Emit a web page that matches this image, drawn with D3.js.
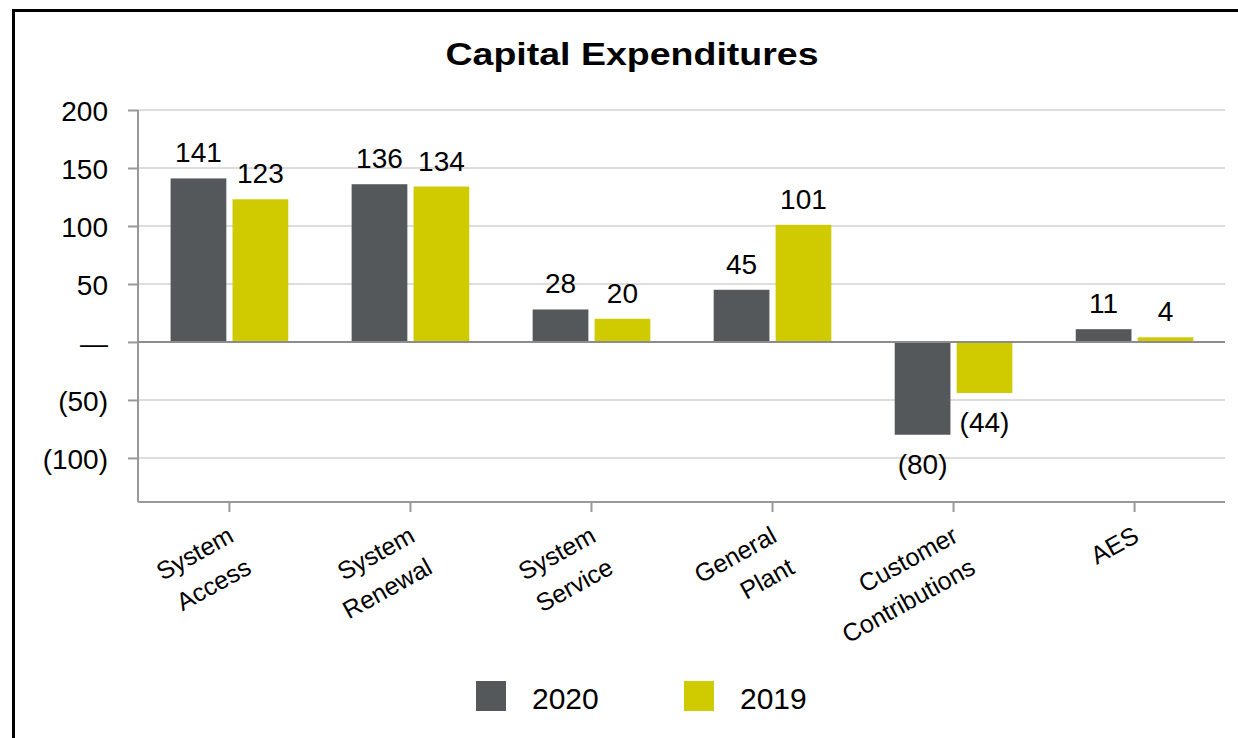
<!DOCTYPE html>
<html>
<head>
<meta charset="utf-8">
<script src="https://cdn.jsdelivr.net/npm/d3@7"></script>
<style>
  body { margin: 0; background: #fff; }
  text { font-family: "Liberation Sans", Arial, sans-serif; fill: #000; }
</style>
</head>
<body>
<div id="chart"></div>
<script>
// data
const categories = ['System Access', 'System Renewal', 'System Service', 'General Plant', 'Customer Contributions', 'AES'];
const seriesNames = ['2020', '2019'];
const values2020 = [141, 136, 28, 45, -80, 11];
const values2019 = [123, 134, 20, 101, -44, 4];
const yTicks = [200, 150, 100, 50, 0, -50, -100];
const rangeColor = ['#54585a', '#d0cb00'];

const W = 1238, H = 738;
const plot = { left: 138, right: 1226, top: 110, bottom: 502 };

const data = categories.map((c, i) => ({ category: c, '2020': values2020[i], '2019': values2019[i] }));

const color = d3.scaleOrdinal().domain(seriesNames).range(rangeColor);

const x0 = d3.scaleBand()
  .domain(categories)
  .range([plot.left, plot.right])
  .paddingInner(0.35)
  .paddingOuter(0.18);

const x1 = d3.scaleBand()
  .domain(seriesNames)
  .range([0, x0.bandwidth()])
  .paddingInner(0.1);

const y = d3.scaleLinear()
  .domain([-138, 200])
  .range([plot.bottom, plot.top]);

const fmt = v => v === 0 ? '\u2014' : (v < 0 ? `(${-v})` : `${v}`);

const svg = d3.select('#chart')
  .append('svg')
  .attr('width', W)
  .attr('height', H);

// frame
svg.append('rect')
  .attr('x', 13.5).attr('y', 10.5)
  .attr('width', 1300).attr('height', 800)
  .attr('fill', 'none')
  .attr('stroke', '#000')
  .attr('stroke-width', 3);

// title (the original font runs wide, so stretch it)
svg.append('text')
  .attr('x', 632).attr('y', 65)
  .attr('text-anchor', 'middle')
  .attr('font-size', 32)
  .attr('font-weight', 'bold')
  .attr('textLength', 373)
  .attr('lengthAdjust', 'spacingAndGlyphs')
  .text('Capital Expenditures');

// gridlines
svg.append('g')
  .selectAll('line')
  .data(yTicks.filter(t => t !== 0))
  .enter().append('line')
  .attr('x1', plot.left).attr('x2', plot.right - 1)
  .attr('y1', d => y(d)).attr('y2', d => y(d))
  .attr('stroke', '#dddddd')
  .attr('stroke-width', 2);

// y axis
const yAxis = svg.append('g')
  .attr('transform', `translate(${plot.left},0)`)
  .call(d3.axisLeft(y).tickValues(yTicks).tickSize(10).tickPadding(20).tickFormat(fmt));
yAxis.select('.domain')
  .attr('d', `M0,${y(200)}V${plot.bottom}`)
  .attr('stroke', '#999').attr('stroke-width', 2);
yAxis.selectAll('.tick line').attr('stroke', '#999').attr('stroke-width', 2);
yAxis.selectAll('.tick text')
  .attr('font-size', 28)
  .attr('font-family', '"Liberation Sans", Arial, sans-serif')
  .attr('fill', '#000')
  .attr('dy', '0.36em');

// x axis
const xAxis = svg.append('g')
  .attr('transform', `translate(0,${plot.bottom})`)
  .call(d3.axisBottom(x0).tickSize(10).tickFormat(''));
xAxis.select('.domain')
  .attr('d', `M${plot.left},0H${plot.right - 1}`)
  .attr('stroke', '#999').attr('stroke-width', 2);
xAxis.selectAll('.tick line').attr('stroke', '#999').attr('stroke-width', 2);

// category labels, two lines, tilted
const xl = svg.append('g')
  .selectAll('text')
  .data(categories)
  .enter().append('text')
  .attr('text-anchor', 'end')
  .attr('font-size', 25)
  .attr('transform', d => `translate(${x0(d) + x0.bandwidth() / 2 - 5},${plot.bottom + 19}) rotate(-29)`);
xl.selectAll('tspan')
  .data(d => d.split(' '))
  .enter().append('tspan')
  .attr('x', 0)
  .attr('dy', (d, i) => i === 0 ? '0.9em' : '1.45em')
  .text(d => d);

// bars
const groups = svg.append('g')
  .selectAll('g')
  .data(data)
  .enter().append('g')
  .attr('transform', d => `translate(${x0(d.category)},0)`);

const cells = groups.selectAll('g')
  .data(d => seriesNames.map(k => ({ key: k, value: d[k] })))
  .enter().append('g');

cells.append('rect')
  .attr('x', d => x1(d.key))
  .attr('y', d => y(Math.max(0, d.value)))
  .attr('width', x1.bandwidth())
  .attr('height', d => Math.abs(y(d.value) - y(0)))
  .attr('fill', d => color(d.key));

cells.append('text')
  .attr('x', d => x1(d.key) + x1.bandwidth() / 2)
  .attr('y', d => d.value >= 0 ? y(d.value) - 16 : y(d.value) + 39)
  .attr('text-anchor', 'middle')
  .attr('font-size', 28)
  .text(d => fmt(d.value));

// zero line on top of bars
svg.append('line')
  .attr('x1', plot.left).attr('x2', plot.right - 1)
  .attr('y1', y(0)).attr('y2', y(0))
  .attr('stroke', '#8c8c8c')
  .attr('stroke-width', 2);

// legend
const legend = svg.append('g')
  .selectAll('g')
  .data(seriesNames)
  .enter().append('g')
  .attr('transform', (d, i) => `translate(${476 + i * 208},681)`);
legend.append('rect')
  .attr('width', 30).attr('height', 30)
  .attr('fill', d => color(d));
legend.append('text')
  .attr('x', 56).attr('y', 28)
  .attr('font-size', 30)
  .text(d => d);
</script>
</body>
</html>
